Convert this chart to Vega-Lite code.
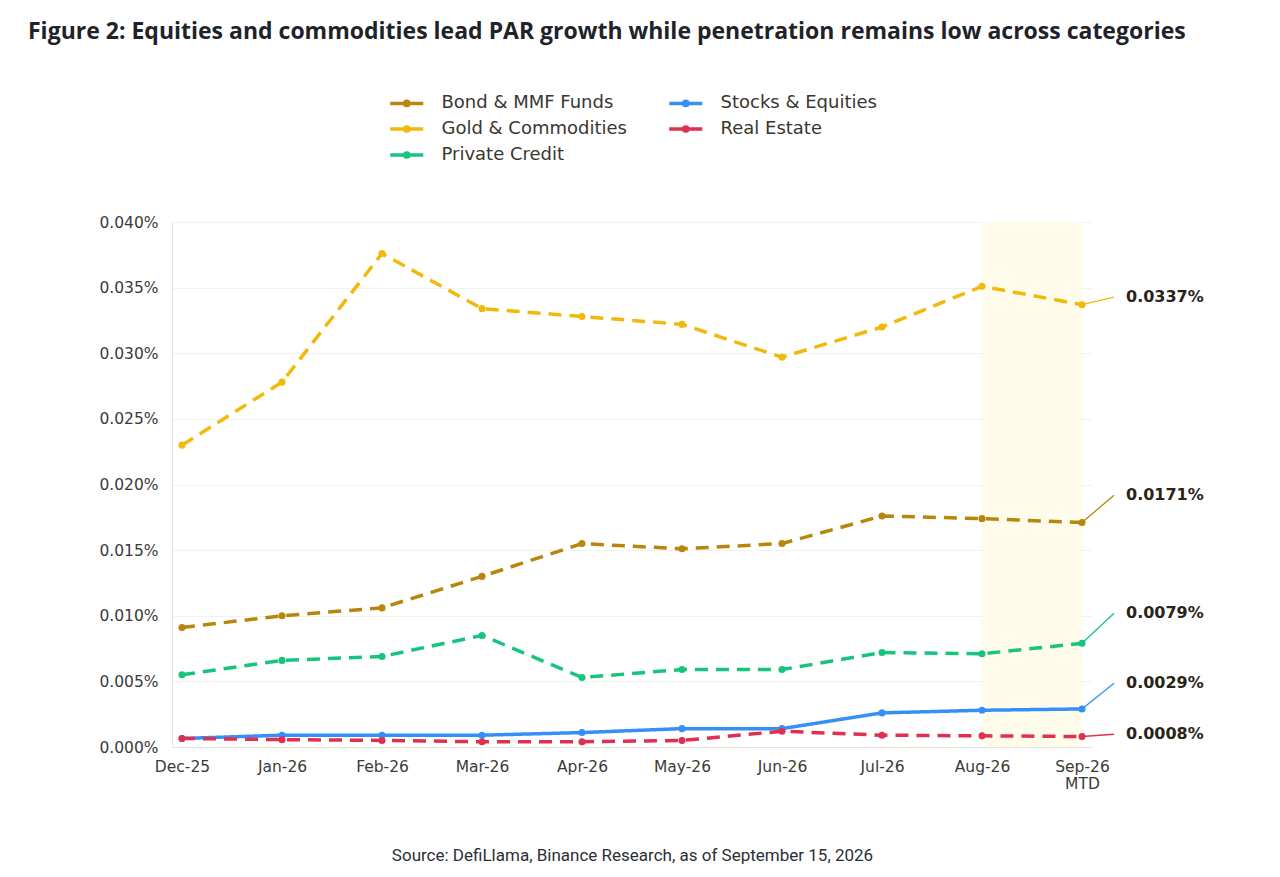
{
  "$schema": "https://vega.github.io/schema/vega-lite/v6.json",
  "width": 920,
  "height": 525,
  "autosize": "none",
  "padding": {"left": 172, "top": 222, "right": 188, "bottom": 130},
  "background": "white",
  "title": {
    "text": "Figure 2: Equities and commodities lead PAR growth while penetration remains low across categories",
    "anchor": "start",
    "frame": "group",
    "dx": -144,
    "offset": 50,
    "font": "Open Sans",
    "fontSize": 23,
    "fontWeight": "bold",
    "color": "#1e2329"
  },
  "datasets": {
    "series": [
      {"month": "Dec-25", "series": "Bond & MMF Funds", "value": 0.0091},
      {"month": "Jan-26", "series": "Bond & MMF Funds", "value": 0.0100},
      {"month": "Feb-26", "series": "Bond & MMF Funds", "value": 0.0106},
      {"month": "Mar-26", "series": "Bond & MMF Funds", "value": 0.0130},
      {"month": "Apr-26", "series": "Bond & MMF Funds", "value": 0.0155},
      {"month": "May-26", "series": "Bond & MMF Funds", "value": 0.0151},
      {"month": "Jun-26", "series": "Bond & MMF Funds", "value": 0.0155},
      {"month": "Jul-26", "series": "Bond & MMF Funds", "value": 0.0176},
      {"month": "Aug-26", "series": "Bond & MMF Funds", "value": 0.0174},
      {"month": "Sep-26 MTD", "series": "Bond & MMF Funds", "value": 0.0171},
      {"month": "Dec-25", "series": "Gold & Commodities", "value": 0.0230},
      {"month": "Jan-26", "series": "Gold & Commodities", "value": 0.0278},
      {"month": "Feb-26", "series": "Gold & Commodities", "value": 0.0376},
      {"month": "Mar-26", "series": "Gold & Commodities", "value": 0.0334},
      {"month": "Apr-26", "series": "Gold & Commodities", "value": 0.0328},
      {"month": "May-26", "series": "Gold & Commodities", "value": 0.0322},
      {"month": "Jun-26", "series": "Gold & Commodities", "value": 0.0297},
      {"month": "Jul-26", "series": "Gold & Commodities", "value": 0.0320},
      {"month": "Aug-26", "series": "Gold & Commodities", "value": 0.0351},
      {"month": "Sep-26 MTD", "series": "Gold & Commodities", "value": 0.0337},
      {"month": "Dec-25", "series": "Private Credit", "value": 0.0055},
      {"month": "Jan-26", "series": "Private Credit", "value": 0.0066},
      {"month": "Feb-26", "series": "Private Credit", "value": 0.0069},
      {"month": "Mar-26", "series": "Private Credit", "value": 0.0085},
      {"month": "Apr-26", "series": "Private Credit", "value": 0.0053},
      {"month": "May-26", "series": "Private Credit", "value": 0.0059},
      {"month": "Jun-26", "series": "Private Credit", "value": 0.0059},
      {"month": "Jul-26", "series": "Private Credit", "value": 0.0072},
      {"month": "Aug-26", "series": "Private Credit", "value": 0.0071},
      {"month": "Sep-26 MTD", "series": "Private Credit", "value": 0.0079},
      {"month": "Dec-25", "series": "Stocks & Equities", "value": 0.00065},
      {"month": "Jan-26", "series": "Stocks & Equities", "value": 0.0009},
      {"month": "Feb-26", "series": "Stocks & Equities", "value": 0.0009},
      {"month": "Mar-26", "series": "Stocks & Equities", "value": 0.0009},
      {"month": "Apr-26", "series": "Stocks & Equities", "value": 0.0011},
      {"month": "May-26", "series": "Stocks & Equities", "value": 0.0014},
      {"month": "Jun-26", "series": "Stocks & Equities", "value": 0.0014},
      {"month": "Jul-26", "series": "Stocks & Equities", "value": 0.0026},
      {"month": "Aug-26", "series": "Stocks & Equities", "value": 0.0028},
      {"month": "Sep-26 MTD", "series": "Stocks & Equities", "value": 0.0029},
      {"month": "Dec-25", "series": "Real Estate", "value": 0.00065},
      {"month": "Jan-26", "series": "Real Estate", "value": 0.00056},
      {"month": "Feb-26", "series": "Real Estate", "value": 0.0005},
      {"month": "Mar-26", "series": "Real Estate", "value": 0.0004},
      {"month": "Apr-26", "series": "Real Estate", "value": 0.0004},
      {"month": "May-26", "series": "Real Estate", "value": 0.0005},
      {"month": "Jun-26", "series": "Real Estate", "value": 0.0012},
      {"month": "Jul-26", "series": "Real Estate", "value": 0.0009},
      {"month": "Aug-26", "series": "Real Estate", "value": 0.00085},
      {"month": "Sep-26 MTD", "series": "Real Estate", "value": 0.0008}
    ],
    "band": [{"start": "Aug-26", "end": "Sep-26 MTD"}],
    "ends": [
      {"month": "Sep-26 MTD", "series": "Gold & Commodities", "value": 0.0337, "labelAt": 0.03428, "label": "0.0337%"},
      {"month": "Sep-26 MTD", "series": "Bond & MMF Funds", "value": 0.0171, "labelAt": 0.01918, "label": "0.0171%"},
      {"month": "Sep-26 MTD", "series": "Private Credit", "value": 0.0079, "labelAt": 0.01019, "label": "0.0079%"},
      {"month": "Sep-26 MTD", "series": "Stocks & Equities", "value": 0.0029, "labelAt": 0.00486, "label": "0.0029%"},
      {"month": "Sep-26 MTD", "series": "Real Estate", "value": 0.0008, "labelAt": 0.00097, "label": "0.0008%"}
    ]
  },
  "encoding": {
    "x": {
      "field": "month",
      "type": "ordinal",
      "scale": {
        "type": "point",
        "padding": 0.1,
        "domain": ["Dec-25", "Jan-26", "Feb-26", "Mar-26", "Apr-26", "May-26", "Jun-26", "Jul-26", "Aug-26", "Sep-26 MTD"]
      },
      "axis": {
        "title": "Source: DefiLlama, Binance Research, as of September 15, 2026",
        "titleFont": "Roboto",
        "titleFontSize": 17,
        "titleFontWeight": "normal",
        "titleColor": "#2b2f36",
        "titlePadding": 56,
        "labelAngle": 0,
        "labelExpr": "datum.value == 'Sep-26 MTD' ? ['Sep-26', 'MTD'] : datum.value",
        "labelFont": "DejaVu Sans",
        "labelFontSize": 15.5,
        "labelColor": "#3c3a36",
        "labelLineHeight": 17,
        "labelPadding": 12,
        "ticks": false,
        "grid": false,
        "domain": true,
        "domainColor": "#e7e4dc"
      }
    }
  },
  "layer": [
    {
      "data": {"name": "band"},
      "mark": {"type": "rect", "color": "#fffcec"},
      "encoding": {
        "x": {"field": "start", "type": "ordinal"},
        "x2": {"field": "end"}
      }
    },
    {
      "data": {"name": "series"},
      "mark": {"type": "line", "strokeWidth": 3.5, "point": {"filled": true, "size": 50}},
      "encoding": {
        "y": {
          "field": "value",
          "type": "quantitative",
          "scale": {"domain": [0, 0.04]},
          "axis": {
            "title": null,
            "values": [0, 0.005, 0.01, 0.015, 0.02, 0.025, 0.03, 0.035, 0.04],
            "labelExpr": "format(datum.value, '.3f') + '%'",
            "labelFont": "DejaVu Sans",
            "labelFontSize": 15.5,
            "labelColor": "#3c3a36",
            "labelPadding": 14,
            "ticks": false,
            "grid": true,
            "gridColor": "#f1f1f1",
            "domainColor": "#e7e4dc"
          }
        },
        "color": {
          "field": "series",
          "type": "nominal",
          "scale": {
            "domain": ["Bond & MMF Funds", "Gold & Commodities", "Private Credit", "Stocks & Equities", "Real Estate"],
            "range": ["#b8860b", "#f0b90b", "#16c47d", "#3490f7", "#e0304f"]
          },
          "legend": null
        },
        "strokeDash": {
          "field": "series",
          "type": "nominal",
          "scale": {
            "domain": ["Bond & MMF Funds", "Gold & Commodities", "Private Credit", "Stocks & Equities", "Real Estate"],
            "range": [[13, 8], [13, 8], [13, 8], [1, 0], [13, 8]]
          },
          "legend": null
        }
      }
    },
    {
      "data": {"name": "ends"},
      "mark": {"type": "rule", "strokeWidth": 1.3, "x2Offset": 32},
      "encoding": {
        "x2": {"field": "month"},
        "y": {"field": "value", "type": "quantitative"},
        "y2": {"field": "labelAt"},
        "color": {
          "field": "series",
          "type": "nominal",
          "scale": {
            "domain": ["Bond & MMF Funds", "Gold & Commodities", "Private Credit", "Stocks & Equities", "Real Estate"],
            "range": ["#b8860b", "#f0b90b", "#16c47d", "#3490f7", "#e0304f"]
          },
          "legend": {
            "title": null,
            "orient": "none",
            "legendX": 225.75,
            "legendY": -128,
            "columns": 2,
            "padding": 0,
            "columnPadding": 34,
            "rowPadding": 6,
            "symbolType": "M-2.36,0H2.36M-0.3,0A0.3,0.3 0 1,0 0.3,0A0.3,0.3 0 1,0 -0.3,0Z",
            "symbolSize": 196,
            "symbolStrokeWidth": 3.5,
            "labelOffset": 25.75,
            "labelFont": "DejaVu Sans",
            "labelFontSize": 18,
            "labelColor": "#3a3630",
            "labelLimit": 300
          }
        }
      }
    },
    {
      "data": {"name": "ends"},
      "mark": {
        "type": "text",
        "align": "left",
        "baseline": "middle",
        "dx": 44,
        "font": "DejaVu Sans",
        "fontSize": 16,
        "fontWeight": "bold",
        "color": "#2a2418"
      },
      "encoding": {
        "y": {"field": "labelAt", "type": "quantitative"},
        "text": {"field": "label", "type": "nominal"}
      }
    }
  ],
  "resolve": {"scale": {"color": "independent"}},
  "config": {
    "view": {"stroke": null}
  }
}
